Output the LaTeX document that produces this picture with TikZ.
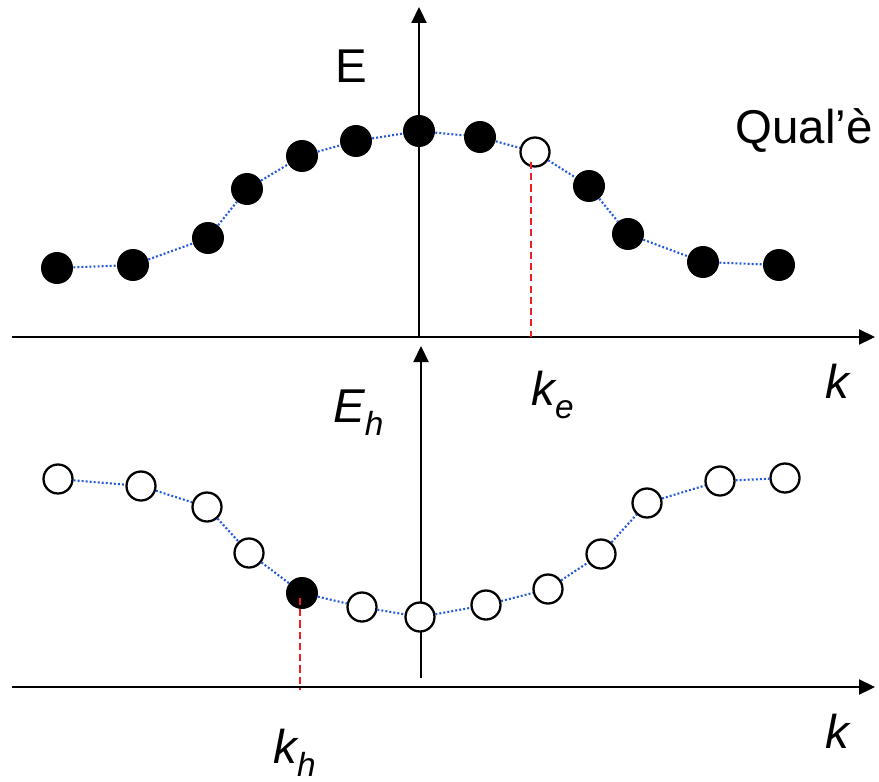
\documentclass[tikz,border=0pt]{standalone}
\usepackage{fontspec}
\setmainfont{Liberation Sans}
\usepackage{tikz}
\usetikzlibrary{arrows.meta}
\definecolor{dotblue}{HTML}{2457E0}
\definecolor{guidered}{HTML}{F01E1E}
\newcommand{\idx}[1]{\raisebox{-0.27cm}{\fontsize{19}{20}\selectfont\itshape #1}}
\tikzset{axis/.style={line width=1.3pt,-{Triangle[length=0.32cm,width=0.3cm]}},
  full/.style={circle,fill=black,minimum size=0.64cm,inner sep=0pt},
  hole/.style={circle,draw=black,fill=white,line width=1.3pt,minimum size=0.58cm,inner sep=0pt},
  dotline/.style={dotblue,line width=1.2pt,dash pattern=on 1.1pt off 1.2pt},
  guide/.style={guidered,line width=1.2pt,dash pattern=on 4pt off 2.4pt},
  lbl/.style={font=\fontsize{27}{32}\selectfont,inner sep=0pt,anchor=base west}}

\begin{document}
\begin{tikzpicture}[x=0.02cm,y=-0.02cm]
\useasboundingbox (0,0) rectangle (879,781);
% axes
\coordinate (xa1) at (12,337); \coordinate (xb1) at (875,337);
\coordinate (ya1) at (419,337); \coordinate (yb1) at (419,7);
\coordinate (xa2) at (12,687); \coordinate (xb2) at (875,687);
\coordinate (ya2) at (421,678); \coordinate (yb2) at (421,346);
\draw[axis] (xa1) -- (xb1); \draw[axis] (ya1) -- (yb1);
\draw[axis] (xa2) -- (xb2); \draw[axis] (ya2) -- (yb2);
% upper band
\node[full] (t1) at (57,268) {}; \node[full] (t2) at (133,265) {}; \node[full] (t3) at (208,238) {};
\node[full] (t4) at (247,189) {}; \node[full] (t5) at (302,156) {}; \node[full] (t6) at (356,141) {};
\node[full] (t7) at (419,131) {}; \node[full] (t8) at (480,137) {}; \node[hole] (t9) at (535,152) {};
\node[full] (t10) at (589,186) {}; \node[full] (t11) at (628,234) {}; \node[full] (t12) at (703,262) {};
\node[full] (t13) at (779,265) {};
% lower band
\node[hole] (b1) at (58,479) {}; \node[hole] (b2) at (141,486) {}; \node[hole] (b3) at (207,507) {};
\node[hole] (b4) at (249,553) {}; \node[full] (b5) at (302,593) {}; \node[hole] (b6) at (362,607) {};
\node[hole] (b7) at (420,617) {}; \node[hole] (b8) at (486,605) {}; \node[hole] (b9) at (548,589) {};
\node[hole] (b10) at (601,554) {}; \node[hole] (b11) at (647,503) {}; \node[hole] (b12) at (720,481) {};
\node[hole] (b13) at (785,478) {};
\foreach \i [count=\j from 2] in {1,...,12} {
  \draw[dotline] (t\i) -- (t\j);
  \draw[dotline] (b\i) -- (b\j);
}
% electron and hole
\coordinate (ke0) at (531,162); \coordinate (ke) at (531,337);
\coordinate (kh0) at (300,598); \coordinate (kh) at (300,690);
\draw[guide] (ke0) -- (ke); \draw[guide] (kh0) -- (kh);
% labels
\node[lbl] (lE) at (335,82) {E};
\node[lbl] (lq) at (735,143) {Qual’è};
\node[lbl] (lk1) at (825,398) {\itshape k};
\node[lbl] (lke) at (531,405) {\itshape k\idx{e}};
\node[lbl] (lEh) at (333,422) {\itshape E\idx{h}};
\node[lbl] (lk2) at (825,748) {\itshape k};
\node[lbl] (lkh) at (273,763) {\itshape k\idx{h}};
\end{tikzpicture}
\end{document}
